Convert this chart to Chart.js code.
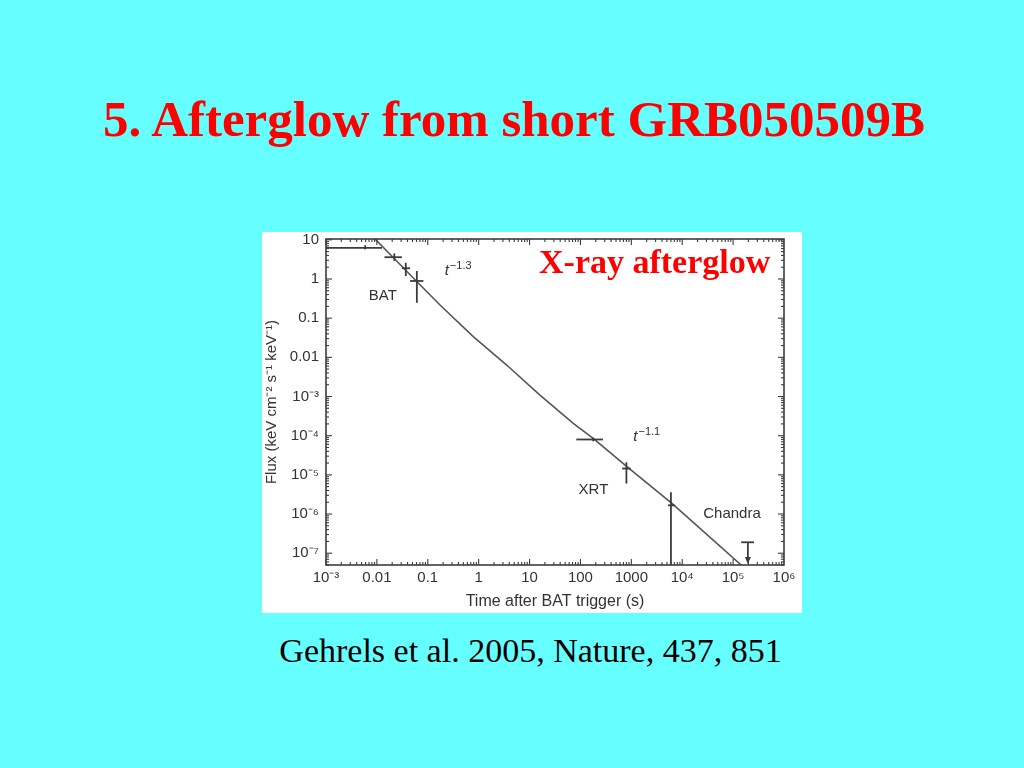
<!DOCTYPE html>
<html>
<head>
<meta charset="utf-8">
<script src="https://cdn.jsdelivr.net/npm/chart.js@4"></script>
<style>
  html, body { margin: 0; padding: 0; }
  body { width: 1024px; height: 768px; background: #66ffff; position: relative; overflow: hidden; }
  #title { position: absolute; left: 0; top: 94px; width: 1028px; text-align: center; color: #ff0000;
           font: bold 51px/51px "Liberation Serif", "DejaVu Serif", serif; white-space: nowrap; }
  #box { position: absolute; left: 262px; top: 232px; width: 540px; height: 381px; background: #ffffff; }
  #chart { position: absolute; left: 0; top: 0; }
  #xray { position: absolute; left: 277px; top: 13px; color: #ff0000; white-space: nowrap;
          font: bold 34px/34px "Liberation Serif", "DejaVu Serif", serif; }
  #cite { position: absolute; left: 0; top: 634px; width: 1061px; text-align: center; color: #000000;
          font: 34px/34px "Liberation Serif", "DejaVu Serif", serif; white-space: nowrap; }
</style>
</head>
<body>
<div id="title">5. Afterglow from short GRB050509B</div>
<div id="box">
  <canvas id="chart" width="540" height="381"></canvas>
  <div id="xray">X-ray afterglow</div>
</div>
<div id="cite">Gehrels et al. 2005, Nature, 437, 851</div>
<script>
const xTickValues = [1e-3, 1e-2, 1e-1, 1, 10, 100, 1000, 1e4, 1e5, 1e6];
const xTickLabels = ["10⁻³", "0.01", "0.1", "1", "10", "100", "1000", "10⁴", "10⁵", "10⁶"];
const yTickValues = [10, 1, 0.1, 0.01, 1e-3, 1e-4, 1e-5, 1e-6, 1e-7];
const yTickLabels = ["10", "1", "0.1", "0.01", "10⁻³", "10⁻⁴", "10⁻⁵", "10⁻⁶", "10⁻⁷"];

// broken power-law fit (t^-1.3 then t^-1.1)
const fitTime = [0.0092, 0.0614, 0.174, 0.783, 3.55, 16.0, 72.3, 178, 818, 6266, 1.44e5];
const fitFlux = [10.5, 0.853, 0.217, 0.0337, 0.00637, 1.09e-3, 2.07e-4, 8.57e-5, 1.62e-5, 1.86e-6, 5.0e-8];

// BAT points
const batTime = [0.0059, 0.022, 0.037, 0.061];
const batTimeLo = [0.001, 0.0141, 0.031, 0.045];
const batTimeHi = [0.0126, 0.031, 0.045, 0.082];
const batFlux = [6.2, 3.6, 1.88, 0.89];
const batFluxLo = [5.7, 2.9, 1.19, 0.247];
const batFluxHi = [7.3, 4.5, 2.6, 1.6];

// XRT points
const xrtTime = [178, 800, 6000];
const xrtTimeLo = [83, 660, 5250];
const xrtTimeHi = [277, 970, 7250];
const xrtFlux = [8e-5, 1.45e-5, 1.67e-6];
const xrtFluxLo = [7.2e-5, 6e-6, 1e-8];
const xrtFluxHi = [8.9e-5, 2.1e-5, 3.6e-6];

// Chandra upper limit
const chandraTime = [1.95e5];
const chandraTimeLo = [1.44e5];
const chandraTimeHi = [2.58e5];
const chandraLimit = [1.9e-7];

const notes = [
  { text: "BAT", x: 0.0131, y: 0.366 },
  { text: "XRT", x: 180, y: 4.1e-6 },
  { text: "Chandra", x: 9.5e4, y: 1e-6 },
];
const slopes = [
  { base: "t", exp: "−1.3", x: 0.215, y: 1.3 },
  { base: "t", exp: "−1.1", x: 1094, y: 7.3e-5 },
];

const ink = "#3c3c3c";
const sans = "'Liberation Sans', Arial, sans-serif";

function points(t, lo, hi, f, flo, fhi) {
  return t.map((v, i) => ({ x: v, y: f[i], xMin: lo[i], xMax: hi[i], yMin: flo ? flo[i] : f[i], yMax: fhi ? fhi[i] : f[i] }));
}

const errorBars = {
  id: "errorBars",
  afterDatasetsDraw(chart) {
    const { ctx, chartArea: a, scales: { x, y } } = chart;
    const line = (x1, y1, x2, y2) => { ctx.beginPath(); ctx.moveTo(x1, y1); ctx.lineTo(x2, y2); ctx.stroke(); };
    ctx.save();
    ctx.beginPath();
    ctx.rect(a.left, a.top, a.right - a.left, a.bottom - a.top);
    ctx.clip();
    ctx.strokeStyle = ink;
    ctx.fillStyle = ink;
    ctx.lineWidth = 1.8;
    chart.data.datasets.forEach((ds) => {
      if (!ds.errorBars) return;
      ds.data.forEach((p) => {
        const px = x.getPixelForValue(p.x);
        const py = y.getPixelForValue(p.y);
        line(x.getPixelForValue(p.xMin), py, x.getPixelForValue(p.xMax), py);
        if (ds.upperLimit) {
          line(px, py, px, a.bottom - 6);
          ctx.beginPath();
          ctx.moveTo(px - 3, a.bottom - 8);
          ctx.lineTo(px + 3, a.bottom - 8);
          ctx.lineTo(px, a.bottom - 1);
          ctx.closePath();
          ctx.fill();
        } else {
          line(px, y.getPixelForValue(p.yMin), px, y.getPixelForValue(p.yMax));
        }
      });
    });
    ctx.restore();
  },
};

const frame = {
  id: "frame",
  afterDraw(chart) {
    const { ctx, chartArea: a, scales: { x, y } } = chart;
    const line = (x1, y1, x2, y2) => { ctx.beginPath(); ctx.moveTo(x1, y1); ctx.lineTo(x2, y2); ctx.stroke(); };
    ctx.save();
    ctx.strokeStyle = ink;
    ctx.lineWidth = 1.6;
    ctx.strokeRect(a.left, a.top, a.right - a.left, a.bottom - a.top);
    ctx.lineWidth = 1.1;
    for (let e = -3; e < 6; e++) {
      for (let m = 1; m < 10; m++) {
        const px = x.getPixelForValue(m * 10 ** e);
        const len = m === 1 ? 6 : 3;
        line(px, a.bottom, px, a.bottom - len);
        line(px, a.top, px, a.top + len);
      }
    }
    for (let e = -8; e < 2; e++) {
      for (let m = 1; m < 10; m++) {
        const v = m * 10 ** e;
        if (v < y.min || v > y.max) continue;
        const py = y.getPixelForValue(v);
        const len = m === 1 ? 6 : 3;
        line(a.left, py, a.left + len, py);
        line(a.right, py, a.right - len, py);
      }
    }

    ctx.fillStyle = "#333";
    ctx.textBaseline = "middle";
    ctx.textAlign = "center";
    ctx.font = "15px " + sans;
    notes.forEach((n) => ctx.fillText(n.text, x.getPixelForValue(n.x), y.getPixelForValue(n.y)));
    ctx.textAlign = "left";
    ctx.textBaseline = "alphabetic";
    slopes.forEach((s) => {
      const px = x.getPixelForValue(s.x);
      const py = y.getPixelForValue(s.y);
      ctx.font = "italic 15px " + sans;
      ctx.fillText(s.base, px, py);
      const w = ctx.measureText(s.base).width;
      ctx.font = "11px " + sans;
      ctx.fillText(s.exp, px + w + 1, py - 6);
    });
    ctx.restore();
  },
};

new Chart(document.getElementById("chart"), {
  data: {
    datasets: [
      {
        type: "line",
        label: "fit",
        data: fitTime.map((t, i) => ({ x: t, y: fitFlux[i] })),
        borderColor: "#555555",
        borderWidth: 1.6,
        pointRadius: 0,
        tension: 0,
      },
      {
        type: "scatter",
        label: "BAT",
        data: points(batTime, batTimeLo, batTimeHi, batFlux, batFluxLo, batFluxHi),
        pointRadius: 0,
        errorBars: true,
      },
      {
        type: "scatter",
        label: "XRT",
        data: points(xrtTime, xrtTimeLo, xrtTimeHi, xrtFlux, xrtFluxLo, xrtFluxHi),
        pointRadius: 0,
        errorBars: true,
      },
      {
        type: "scatter",
        label: "Chandra",
        data: points(chandraTime, chandraTimeLo, chandraTimeHi, chandraLimit),
        pointRadius: 0,
        errorBars: true,
        upperLimit: true,
      },
    ],
  },
  options: {
    responsive: false,
    animation: false,
    layout: { padding: { left: 0, right: 18, top: 7, bottom: 0 } },
    plugins: { legend: { display: false }, tooltip: { enabled: false } },
    scales: {
      x: {
        type: "logarithmic",
        min: 1e-3,
        max: 1e6,
        afterBuildTicks: (axis) => { axis.ticks = xTickValues.map((v) => ({ value: v })); },
        afterFit: (axis) => { axis.height = 48; axis.paddingLeft = 0; axis.paddingRight = 0; },
        grid: { display: false, drawTicks: false },
        border: { display: false },
        ticks: {
          callback: (v, i) => xTickLabels[i],
          autoSkip: false,
          maxRotation: 0,
          padding: 4,
          color: "#333",
          font: { family: sans, size: 15 },
        },
        title: {
          display: true,
          text: "Time after BAT trigger (s)",
          color: "#333",
          font: { family: sans, size: 16 },
          padding: { top: 0, bottom: 2 },
        },
      },
      y: {
        type: "logarithmic",
        min: 5e-8,
        max: 10.5,
        afterBuildTicks: (axis) => { axis.ticks = yTickValues.map((v) => ({ value: v })); },
        afterFit: (axis) => { axis.width = 64; axis.paddingTop = 0; axis.paddingBottom = 0; },
        grid: { display: false, drawTicks: false },
        border: { display: false },
        ticks: {
          callback: (v, i) => yTickLabels[i],
          autoSkip: false,
          padding: 7,
          color: "#333",
          font: { family: sans, size: 15 },
        },
        title: {
          display: true,
          text: "Flux (keV cm⁻² s⁻¹ keV⁻¹)",
          color: "#333",
          font: { family: sans, size: 15 },
          padding: { top: 1, bottom: 0 },
        },
      },
    },
  },
  plugins: [errorBars, frame],
});
</script>
</body>
</html>
